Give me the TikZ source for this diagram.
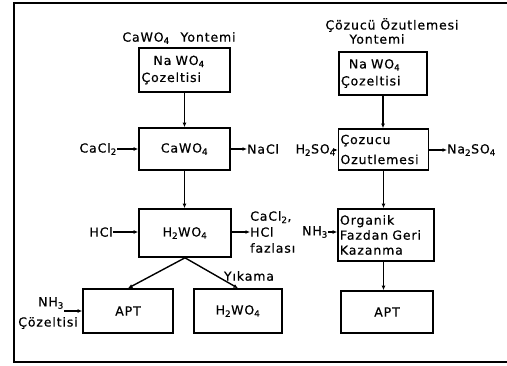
\documentclass[tikz,border=0pt]{standalone}
\usepackage{fontspec}
\setmainfont{DejaVu Sans}[LetterSpace=7, FakeBold=0.6]
\usetikzlibrary{arrows.meta,calc}
\tikzset{
  box/.style={draw, line width=1.6pt, inner sep=2pt},
  lbl/.style={inner sep=0pt, font=\fontsize{12.5}{16}\selectfont},
  arr/.style={line width=1.4pt, -{Latex[length=4.5pt,width=4pt]}},
}
\begin{document}
\begin{tikzpicture}[x=1pt,y=-1pt, every node/.style={font=\fontsize{12.5}{17}\selectfont}]
\useasboundingbox (0,0) rectangle (507,365);
% frame
\draw[line width=2.4pt] (507,3) -- (14,3) -- (14,362) -- (507,362);

% headings
\node[lbl] (hl) at (179,38) {CaWO\textsubscript{4}\hspace{6pt} Yontemi};
\node[lbl] (hr1) at (392,25) {Çözucü Özutlemesi};
\node[lbl] (hr2) at (377,39) {Yontemi};

% left column boxes
\node[box, minimum width=91pt, minimum height=44pt, align=left, text width=86pt] (L1) at (184.5,70)
  {\hspace*{12pt}Na WO\textsubscript{4}\\Çozeltisi};
\node[box, minimum width=91pt, minimum height=42pt] (L2) at (184.5,149) {CaWO\textsubscript{4}};
\node[box, minimum width=92pt, minimum height=48pt] (L3) at (185,233) {H\textsubscript{2}WO\textsubscript{4}};
\node[box, minimum width=90pt, minimum height=44pt] (LA) at (128,311) {APT};
\node[box, minimum width=88pt, minimum height=44pt] (LH) at (238,311) {H\textsubscript{2}WO\textsubscript{4}};

% right column boxes
\node[box, minimum width=88pt, minimum height=43pt, align=left, text width=84pt] (R1) at (383,73.5)
  {\hspace*{8pt}Na WO\textsubscript{4}\\Çozeltisi};
\node[box, minimum width=89pt, minimum height=41pt, align=left, text width=86pt,
      font=\fontsize{12.5}{20}\selectfont] (R2) at (383.5,149.5)
  {Çozucu\\Ozutlemesi};
\node[box, minimum width=94pt, minimum height=52pt, align=left, text width=92pt,
      font=\fontsize{12.5}{15}\selectfont] (R3) at (386,235)
  {Organik\\Fazdan Geri\\Kazanma};
\node[box, minimum width=92pt, minimum height=42pt] (R4) at (387,312) {APT};

% side labels
\node[lbl, anchor=east] (cacl) at (117,149) {CaCl\textsubscript{2}};
\node[lbl, anchor=west] (nacl) at (247,149) {NaCl};
\node[lbl, anchor=east] (hcl) at (113,232) {HCl};
\node[lbl, anchor=west, align=left] (exc) at (250,232) {CaCl\textsubscript{2},\\HCl\\fazlası};
\node[lbl] (yik) at (249,276) {Yıkama};
\node[lbl] (nh1) at (51,303) {NH\textsubscript{3}};
\node[lbl] (coz) at (48,323) {Çözeltisi};
\node[lbl, anchor=east] (hso) at (336,150) {H\textsubscript{2}SO\textsubscript{4}};
\node[lbl, anchor=west] (naso) at (447,150) {Na\textsubscript{2}SO\textsubscript{4}};
\node[lbl, anchor=east] (nh2) at (328,232) {NH\textsubscript{3}};

% vertical arrows
\draw[arr] (L1.south) -- (L1.south |- L2.north);
\draw[arr] (L2.south) -- (L2.south |- L3.north);
\draw[arr] (R1.south) -- (R1.south |- R2.north);
\draw[arr] (R2.south) -- (R2.south |- R3.north);
\draw[arr] (R2.south |- R3.south) -- (R2.south |- R4.north);

% split
\draw[arr] (L3.south) -- (LA.north);
\draw[arr] (L3.south) -- (LH.north);

% side arrows
\draw[arr] (cacl.east) -- (cacl.east -| L2.west);
\draw[arr] (L2.east |- nacl.west) -- (nacl.west);
\draw[arr] (hcl.east) -- (hcl.east -| L3.west);
\draw[arr] (L3.east |- exc.west) -- (exc.west);
\draw[arr] (nh1.south east |- LA.west) -- (LA.west);
\draw[arr] (hso.east) -- (hso.east -| R2.west);
\draw[arr] (R2.east |- naso.west) -- (naso.west);
\draw[arr] (nh2.east) -- (nh2.east -| R3.west);
\end{tikzpicture}
\end{document}
